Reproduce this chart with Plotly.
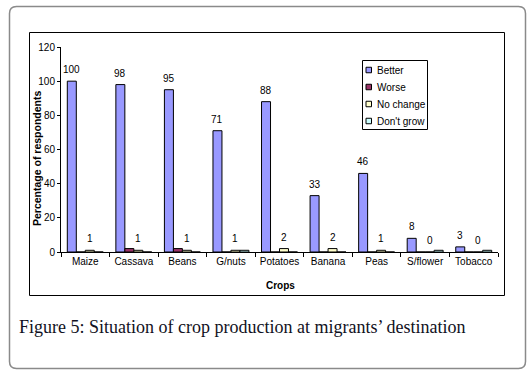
import plotly.graph_objects as go

crops = ["Maize", "Cassava", "Beans", "G/nuts", "Potatoes", "Banana", "Peas", "S/flower", "Tobacco"]
better = [100, 98, 95, 71, 88, 33, 46, 8, 3]
worse = [0, 2, 2, 0, 0, 0, 0, 0, 0]
no_change = [1, 1, 1, 1, 2, 2, 1, 0, 0]
dont_grow = [0, 0, 0, 1, 0, 0, 0, 1, 1]

series_names = ["Better", "Worse", "No change", "Don't grow"]
series_values = [better, worse, no_change, dont_grow]
series_colors = ["#9999FF", "#993366", "#FFFFCC", "#CCFFFF"]
series_labelled = [True, False, True, False]

y_ticks = [0, 20, 40, 60, 80, 100, 120]

FONT = "Liberation Sans, Arial, sans-serif"
BARGAP = 0.26

# plot area in pixels
W, H = 530, 374
L, R, T, B = 61, 498, 47, 252
pw, ph = R - L, B - T

def px(x):
    return (x - L) / pw

def py(y):
    return (B - y) / ph

fig = go.Figure()
annotations = []
n_series = len(series_names)
bar_w_px = pw / len(crops) * (1 - BARGAP) / n_series
for i, (name, vals, col, lab) in enumerate(zip(series_names, series_values, series_colors, series_labelled)):
    fig.add_trace(go.Bar(
        x=crops, y=vals, name=name,
        marker=dict(color=col, line=dict(color="black", width=1)),
        showlegend=False,
    ))
    if lab:
        shift = (i - (n_series - 1) / 2) * bar_w_px
        for c, v in zip(crops, vals):
            annotations.append(dict(x=c, y=v, xref="x", yref="y", text=str(v),
                                    showarrow=False, xanchor="center", yanchor="bottom",
                                    xshift=shift, yshift=4,
                                    font=dict(family=FONT, size=10, color="black")))

shapes = []

# outer rounded frame
x0, x1, y0, y1 = px(9.5), px(525.5), py(6.5), py(368.5)
rx, ry = 7 / pw, 7 / ph
path = (f"M {x0+rx},{y0} L {x1-rx},{y0} Q {x1},{y0} {x1},{y0-ry} "
        f"L {x1},{y1+ry} Q {x1},{y1} {x1-rx},{y1} L {x0+rx},{y1} "
        f"Q {x0},{y1} {x0},{y1+ry} L {x0},{y0-ry} Q {x0},{y0} {x0+rx},{y0} Z")
shapes.append(dict(type="path", xref="paper", yref="paper", path=path,
                   line=dict(color="#8a8a8a", width=1.5), layer="below"))
# inner chart box
shapes.append(dict(type="rect", xref="paper", yref="paper",
                   x0=px(29.5), x1=px(504.5), y0=py(32.5), y1=py(295.5),
                   line=dict(color="black", width=1), layer="below"))

# manual legend
lx0, ly0, lx1, ly1 = 362.5, 60.5, 427.5, 129.5
shapes.append(dict(type="rect", xref="paper", yref="paper",
                   x0=px(lx0), x1=px(lx1), y0=py(ly0), y1=py(ly1),
                   line=dict(color="black", width=1), fillcolor="white"))
for i, (name, col) in enumerate(zip(series_names, series_colors)):
    cy = 70 + i * 17
    shapes.append(dict(type="rect", xref="paper", yref="paper",
                       x0=px(366), x1=px(371.5), y0=py(cy - 2.75), y1=py(cy + 2.75),
                       line=dict(color="black", width=1), fillcolor=col))
    annotations.append(dict(xref="paper", yref="paper", x=px(375), y=py(cy),
                            text=name, showarrow=False, xanchor="left", yanchor="middle",
                            font=dict(family=FONT, size=10, color="black")))

# axis titles
annotations.append(dict(xref="paper", yref="paper", x=px(37), y=py(158),
                        text="<b>Percentage of respondents</b>", textangle=-90,
                        showarrow=False, xanchor="center", yanchor="middle",
                        font=dict(family=FONT, size=10.5, color="black")))
annotations.append(dict(xref="paper", yref="paper", x=px(280), y=py(285),
                        text="<b>Crops</b>", showarrow=False,
                        xanchor="center", yanchor="middle",
                        font=dict(family=FONT, size=10, color="black")))
# caption
annotations.append(dict(xref="paper", yref="paper", x=px(17), y=py(327),
                        text="Figure 5: Situation of crop production at migrants\u2019 destination",
                        showarrow=False, xanchor="left", yanchor="middle",
                        font=dict(family="Liberation Serif, Times New Roman, serif", size=18, color="#111122")))

fig.update_layout(
    width=W, height=H,
    margin=dict(l=L, r=W - R, t=T, b=H - B, pad=0),
    paper_bgcolor="white", plot_bgcolor="white",
    barmode="group", bargap=BARGAP, bargroupgap=0,
    shapes=shapes, annotations=annotations,
    xaxis=dict(showline=True, linecolor="black", linewidth=1, ticks="outside",
               tickson="boundaries", ticklen=4, tickcolor="black",
               tickfont=dict(family=FONT, size=10, color="black"),
               showgrid=False, zeroline=False),
    yaxis=dict(range=[0, 120], tickvals=y_ticks, showline=True, linecolor="black",
               linewidth=1, ticks="outside", ticklen=3, tickcolor="black",
               tickfont=dict(family=FONT, size=10, color="black"),
               showgrid=False, zeroline=False),
)

fig.write_html("out.html", config={"displayModeBar": False},
               post_script="document.body.style.margin='0';document.body.style.overflow='hidden';")
